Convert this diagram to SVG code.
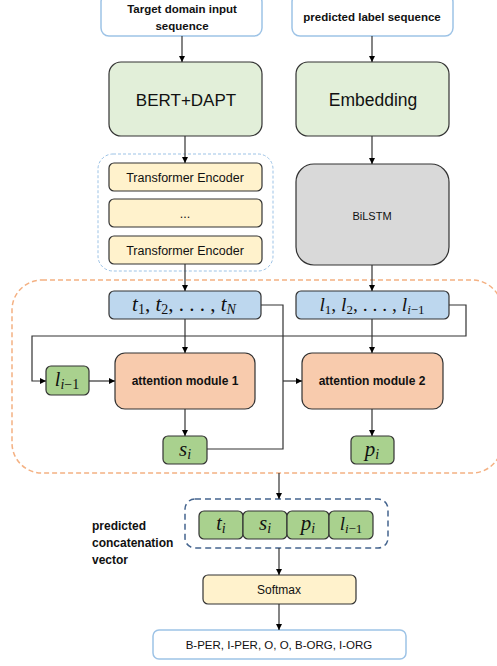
<svg xmlns="http://www.w3.org/2000/svg" width="497" height="666" viewBox="0 0 497 666">
<defs>
<marker id="ah" viewBox="0 0 10 10" refX="10" refY="5" markerWidth="6" markerHeight="6" orient="auto" markerUnits="userSpaceOnUse"><path d="M0,0 L10,5 L0,10 z" fill="#000"/></marker>
</defs>
<style>
.t{font-family:"Liberation Sans",Arial,sans-serif;fill:#111;text-anchor:middle}
.s{text-anchor:start}
.b{font-weight:bold}
.m{font-family:"Liberation Serif","DejaVu Serif",serif;font-style:italic;fill:#111;text-anchor:middle}
.in{fill:#fff;stroke:#9dc3e6;stroke-width:1.5}
.gr{fill:#e2efd9;stroke:#333;stroke-width:1.2}
.ye{fill:#fff2cc;stroke:#333;stroke-width:1.2}
.gy{fill:#d9d9d9;stroke:#333;stroke-width:1.2}
.bl{fill:#bdd7ee;stroke:#333;stroke-width:1.2}
.or{fill:#f8cbad;stroke:#333;stroke-width:1.2}
.gn{fill:#a9d18e;stroke:#333;stroke-width:1.2}
.c{fill:none;stroke:#333;stroke-width:1.2}
</style>
<rect width="497" height="666" fill="#fff"/>
<g id="groups">
<rect x="98" y="154" width="175" height="117" rx="15" fill="none" stroke="#9dc3e6" stroke-width="1" stroke-dasharray="3,2"/>
<rect x="12" y="280" width="490" height="193" rx="30" fill="none" stroke="#f4b183" stroke-width="1.5" stroke-dasharray="5,3"/>
<rect x="185" y="499" width="203" height="49" rx="10" fill="none" stroke="#44648e" stroke-width="1.5" stroke-dasharray="6,4"/>
</g>
<g id="input1"><rect class="in" x="101" y="-6" width="161" height="42" rx="8"/><text class="t b" x="182" y="13" font-size="11.5">Target domain input</text><text class="t b" x="182" y="30" font-size="11.5">sequence</text></g>
<g id="input2"><rect class="in" x="292" y="-6" width="161" height="42" rx="8"/><text class="t b" x="372" y="21" font-size="11.5">predicted label sequence</text></g>
<g id="bert"><rect class="gr" x="109" y="62" width="153" height="74" rx="12"/><text class="t" x="186" y="106" font-size="17">BERT+DAPT</text></g>
<g id="embedding"><rect class="gr" x="296" y="62" width="153" height="74" rx="12"/><text class="t" x="373" y="106" font-size="17.5">Embedding</text></g>
<g id="enc1"><rect class="ye" x="109" y="163" width="153" height="28" rx="5"/><text class="t" x="185" y="182" font-size="12.5">Transformer Encoder</text></g>
<g id="enc2"><rect class="ye" x="109" y="199" width="153" height="28" rx="5"/><text class="t" x="185" y="218" font-size="12.5">...</text></g>
<g id="enc3"><rect class="ye" x="109" y="236" width="153" height="28" rx="5"/><text class="t" x="185" y="255" font-size="12.5">Transformer Encoder</text></g>
<g id="bilstm"><rect class="gy" x="296" y="164" width="153" height="101" rx="18"/><text class="t" x="372" y="220" font-size="11">BiLSTM</text></g>
<g id="tseq"><rect class="bl" x="109" y="291" width="152" height="28" rx="5"/><text class="m" x="184" y="311" font-size="21">t<tspan font-size="14" dy="3" font-style="normal">1</tspan><tspan dy="-3" font-style="normal">, </tspan>t<tspan font-size="14" dy="3" font-style="normal">2</tspan><tspan dy="-3" font-style="normal">, . . . , </tspan>t<tspan font-size="14" dy="3">N</tspan></text></g>
<g id="lseq"><rect class="bl" x="296" y="291" width="153" height="28" rx="5"/><text class="m" x="372" y="311" font-size="19.5">l<tspan font-size="13" dy="3" font-style="normal">1</tspan><tspan dy="-3" font-style="normal">, </tspan>l<tspan font-size="13" dy="3" font-style="normal">2</tspan><tspan dy="-3" font-style="normal">, . . . , </tspan>l<tspan font-size="13" dy="3">i<tspan font-style="normal">−1</tspan></tspan></text></g>
<g id="lprev"><rect class="gn" x="46" y="366" width="43" height="29" rx="5"/><text class="m" x="67" y="386" font-size="20">l<tspan font-size="14" dy="3">i<tspan font-style="normal">−1</tspan></tspan></text></g>
<g id="att1"><rect class="or" x="115" y="353" width="140" height="56" rx="10"/><text class="t b" x="185" y="385" font-size="12">attention module 1</text></g>
<g id="att2"><rect class="or" x="302" y="353" width="141" height="56" rx="10"/><text class="t b" x="372" y="385" font-size="12">attention module 2</text></g>
<g id="si"><rect class="gn" x="163" y="436" width="44" height="28" rx="5"/><text class="m" x="185" y="456" font-size="21">s<tspan font-size="14" dy="3">i</tspan></text></g>
<g id="pi"><rect class="gn" x="351" y="436" width="43" height="28" rx="5"/><text class="m" x="372" y="456" font-size="21">p<tspan font-size="14" dy="3">i</tspan></text></g>
<g id="concat">
<rect class="gn" x="199" y="511" width="44" height="28" rx="5"/><text class="m" x="221" y="530" font-size="20">t<tspan font-size="14" dy="3">i</tspan></text>
<rect class="gn" x="243" y="511" width="44" height="28" rx="5"/><text class="m" x="265" y="530" font-size="21">s<tspan font-size="14" dy="3">i</tspan></text>
<rect class="gn" x="287" y="511" width="42" height="28" rx="5"/><text class="m" x="308" y="530" font-size="21">p<tspan font-size="14" dy="3">i</tspan></text>
<rect class="gn" x="329" y="511" width="44" height="28" rx="5"/><text class="m" x="351" y="530" font-size="19">l<tspan font-size="13" dy="3">i<tspan font-style="normal">−1</tspan></tspan></text>
</g>
<g id="concat-label"><text class="t b s" x="92" y="530" font-size="12">predicted</text><text class="t b s" x="92" y="547" font-size="12">concatenation</text><text class="t b s" x="92" y="564" font-size="12">vector</text></g>
<g id="softmax"><rect class="ye" x="203" y="575" width="153" height="29" rx="5"/><text class="t" x="279" y="594" font-size="12">Softmax</text></g>
<g id="output"><rect class="in" x="153" y="630" width="253" height="29" rx="6"/><text class="t" x="279" y="649" font-size="11.5">B-PER, I-PER, O, O, B-ORG, I-ORG</text></g>
<g id="connectors">
<path class="c" d="M182,36 V62" marker-end="url(#ah)"/>
<path class="c" d="M372,36 V62" marker-end="url(#ah)"/>
<path class="c" d="M185,136 V163" marker-end="url(#ah)"/>
<path class="c" d="M372,136 V164" marker-end="url(#ah)"/>
<path class="c" d="M185,264 V291" marker-end="url(#ah)"/>
<path class="c" d="M372,265 V291" marker-end="url(#ah)"/>
<path class="c" d="M185,319 V353" marker-end="url(#ah)"/>
<path class="c" d="M372,319 V353" marker-end="url(#ah)"/>
<path class="c" d="M449,305 H466 V336 H32 V381 H46" marker-end="url(#ah)"/>
<path class="c" d="M89,381 H115" marker-end="url(#ah)"/>
<path class="c" d="M261,305 H283 V449 H207"/>
<path class="c" d="M283,381 H302" marker-end="url(#ah)"/>
<path class="c" d="M185,409 V436" marker-end="url(#ah)"/>
<path class="c" d="M372,409 V436" marker-end="url(#ah)"/>
<path class="c" d="M279,473 V499" marker-end="url(#ah)"/>
<path class="c" d="M279,548 V575" marker-end="url(#ah)"/>
<path class="c" d="M279,604 V630" marker-end="url(#ah)"/>
</g>
</svg>
